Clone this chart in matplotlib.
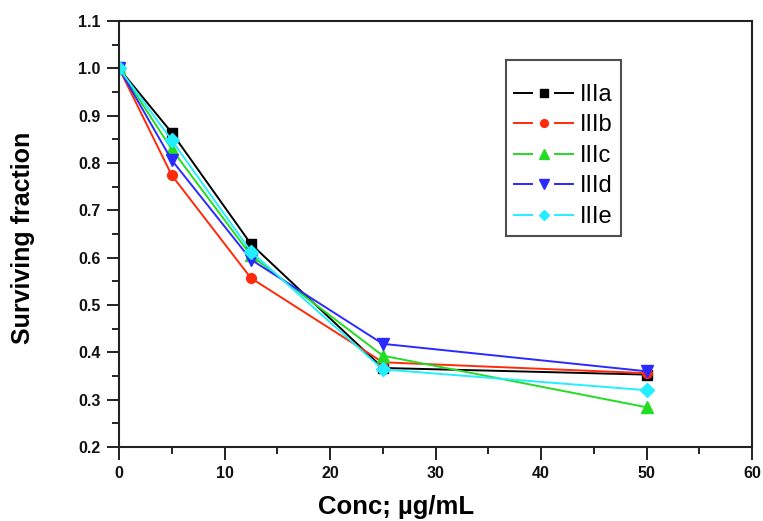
import matplotlib
matplotlib.use("Agg")
import matplotlib.pyplot as plt
from matplotlib.lines import Line2D
from matplotlib.legend_handler import HandlerBase
from matplotlib.ticker import MultipleLocator

plt.rcParams['font.family'] = ['Liberation Sans', 'DejaVu Sans']

# Concentrations (µg/mL) and surviving fractions for each compound
conc = [0, 5, 12.5, 25, 50]
IIIa = [1.0, 0.864, 0.629, 0.367, 0.353]
IIIb = [1.0, 0.774, 0.557, 0.379, 0.356]
IIIc = [1.0, 0.829, 0.605, 0.393, 0.284]
IIId = [1.0, 0.806, 0.596, 0.418, 0.360]
IIIe = [1.0, 0.848, 0.613, 0.364, 0.320]

series = [
    ("IIIa", IIIa, "#000000", "s", 7),
    ("IIIb", IIIb, "#ff2a0a", "o", 7),
    ("IIIc", IIIc, "#22dd22", "^", 9),
    ("IIId", IIId, "#2a2aff", "v", 9),
    ("IIIe", IIIe, "#22eeff", "D", 7),
]


class GappedLineHandler(HandlerBase):
    """Legend key: line segment, marker, line segment, with gaps around the marker."""

    def create_artists(self, legend, orig_handle, xdescent, ydescent,
                       width, height, fontsize, trans):
        y = height / 2 - ydescent
        x0 = -xdescent
        xm = x0 + width / 2
        gap = 0.5 * fontsize
        kw = dict(color=orig_handle.get_color(), linewidth=orig_handle.get_linewidth(),
                  transform=trans)
        left = Line2D([x0, xm - gap], [y, y], **kw)
        right = Line2D([xm + gap, x0 + width], [y, y], **kw)
        mark = Line2D([xm], [y], linestyle='none', marker=orig_handle.get_marker(),
                      markersize=orig_handle.get_markersize() * 0.8,
                      color=orig_handle.get_color(), transform=trans)
        return [left, right, mark]


fig = plt.figure(figsize=(7.63, 5.21), dpi=100)
ax = fig.add_axes([0.156, 0.142, 0.8296, 0.8177])

handles = []
for name, vals, col, mk, ms in series:
    ln, = ax.plot(conc, vals, color=col, marker=mk, markersize=ms, linewidth=1.4,
                  label=name)
    handles.append(ln)

ax.set_xlim(0, 60)
ax.set_ylim(0.2, 1.1)
ax.xaxis.set_major_locator(MultipleLocator(10))
ax.xaxis.set_minor_locator(MultipleLocator(5))
ax.yaxis.set_major_locator(MultipleLocator(0.1))
ax.yaxis.set_minor_locator(MultipleLocator(0.05))
ax.set_yticks(ax.get_yticks())
ax.set_yticklabels([f"{v:.1f}" for v in ax.get_yticks()])
ax.set_ylim(0.2, 1.1)

ax.tick_params(which='major', direction='out', length=9, width=1.3,
               labelsize=11.5, colors='#111111', pad=4.5, top=False, right=False)
ax.tick_params(which='minor', direction='out', length=5, width=1.2,
               top=False, right=False)
for lab in ax.get_xticklabels() + ax.get_yticklabels():
    lab.set_fontweight('bold')
for sp in ax.spines.values():
    sp.set_linewidth(1.5)
    sp.set_color('#222222')

ax.set_xlabel("Conc; µg/mL", fontsize=18.5, fontweight='bold')
ax.xaxis.set_label_coords(0.438, -0.112)
ax.set_ylabel("Surviving fraction", fontsize=18, fontweight='bold')
ax.yaxis.set_label_coords(-0.132, 0.49)

leg = ax.legend(handles=handles, loc='upper left', bbox_to_anchor=(0.611, 0.908),
                fontsize=17, frameon=True, fancybox=False, edgecolor='#222222',
                handlelength=2.5, handletextpad=0.3, labelspacing=0.36,
                borderpad=0.35, borderaxespad=0, title=' ', title_fontsize=6,
                handler_map={Line2D: GappedLineHandler()})
leg.get_frame().set_linewidth(1.5)

fig.savefig("out.png", dpi=100)
